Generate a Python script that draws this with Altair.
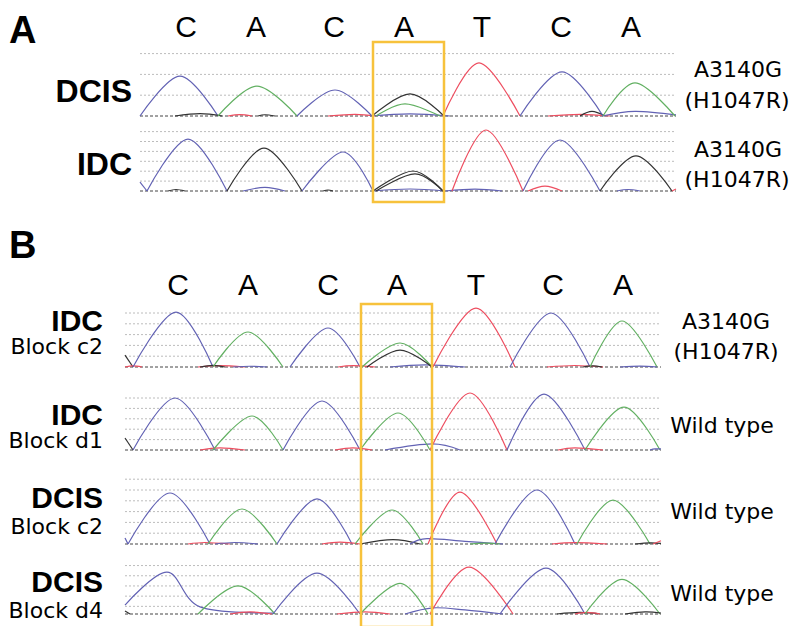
import altair as alt
import pandas as pd

# ---------------- data ----------------
# Sequence shown above each panel
BASES_A = ["C", "A", "C", "A", "T", "C", "A"]
BASES_B = ["C", "A", "C", "A", "T", "C", "A"]

# Sample names, blocks and mutation calls
SAMPLES_A = ["DCIS", "IDC"]
SAMPLES_B = ["IDC", "IDC", "DCIS", "DCIS"]
BLOCKS_B = ["Block c2", "Block d1", "Block c2", "Block d4"]
CALLS_A = ["A3140G", "(H1047R)", "A3140G", "(H1047R)"]
CALLS_B = ["A3140G", "(H1047R)", "Wild type", "Wild type", "Wild type"]

# Chromatogram peaks: (dye channel, scan positions, signal in grid units)
A_DCIS = [
    ("blue", [0, 40, 78], [0, 1.92, 0]),
    ("black", [35, 60, 82], [0, 0.11, 0]),
    ("red", [88, 100, 112], [0, 0.07, 0]),
    ("green", [78, 117, 157], [0, 1.44, 0]),
    ("black", [118, 125, 135], [0, 0.06, 0]),
    ("red", [188, 215, 236], [0, 0.08, 0]),
    ("blue", [157, 195, 232], [0, 1.25, 0]),
    ("blue", [230, 270, 310], [0, 0.1, 0]),
    ("green", [236, 265, 300], [0, 0.58, 0]),
    ("black", [232, 270, 304], [0, 1.06, 0]),
    ("red", [303, 339, 380], [0, 2.55, 0]),
    ("red", [408, 440, 470], [0, 0.08, 0]),
    ("black", [440, 452, 465], [0, 0.22, 0]),
    ("blue", [380, 422, 463], [0, 2.12, 0]),
    ("blue", [462, 495, 536], [0, 0.22, 0.05]),
    ("green", [463, 495, 535], [0, 1.59, 0]),
]
A_IDC = [
    ("blue", [0, 7], [0.9, 0]),
    ("black", [28, 36, 45], [0, 0.15, 0]),
    ("blue", [7, 48, 87], [0, 5.25, 0]),
    ("blue", [103, 125, 145], [0, 0.37, 0]),
    ("black", [87, 124, 162], [0, 4.34, 0]),
    ("black", [183, 188, 193], [0, 0.1, 0]),
    ("blue", [162, 203, 233], [0, 3.94, 0]),
    ("blue", [233, 270, 305], [0, 0.2, 0]),
    ("blue", [305, 335, 362], [0, 0.18, 0]),
    ("black", [233, 273, 303], [0, 2.02, 0]),
    ("black", [236, 275, 303], [0, 1.72, 0]),
    ("red", [312, 346, 383], [0, 6.16, 0]),
    ("red", [388, 405, 422], [0, 0.5, 0]),
    ("blue", [383, 420, 460], [0, 5.15, 0]),
    ("blue", [477, 488, 500], [0, 0.15, 0]),
    ("black", [460, 496, 532], [0, 3.54, 0]),
    ("red", [532, 536], [0, 0.2]),
]
B_IDC_C2 = [
    ("black", [0, 8], [1.1, 0]),
    ("red", [0, 8, 17], [0, 0.1, 0]),
    ("blue", [8, 51, 88], [0, 5.09, 0]),
    ("red", [73, 95, 120], [0, 0.12, 0]),
    ("black", [75, 88, 100], [0, 0.15, 0]),
    ("blue", [108, 125, 142], [0, 0.07, 0]),
    ("green", [88, 123, 158], [0, 3.24, 0]),
    ("blue", [165, 203, 235], [0, 3.61, 0]),
    ("red", [213, 228, 250], [0, 0.12, 0]),
    ("blue", [265, 300, 340], [0, 0.2, 0]),
    ("green", [237, 275, 307], [0, 2.22, 0]),
    ("black", [242, 275, 307], [0, 1.57, 0]),
    ("red", [308, 351, 390], [0, 5.46, 0]),
    ("blue", [385, 426, 465], [0, 5.0, 0]),
    ("red", [422, 450, 478], [0, 0.14, 0]),
    ("black", [458, 468, 477], [0, 0.1, 0]),
    ("green", [465, 497, 532], [0, 4.26, 0]),
    ("blue", [495, 515, 532], [0, 0.08, 0]),
]
B_IDC_D1 = [
    ("black", [0, 8], [1.15, 0]),
    ("blue", [8, 50, 90], [0, 5.0, 0]),
    ("red", [75, 95, 120], [0, 0.2, 0]),
    ("green", [88, 127, 158], [0, 3.27, 0]),
    ("blue", [158, 197, 235], [0, 4.71, 0]),
    ("red", [210, 228, 247], [0, 0.2, 0]),
    ("blue", [260, 307, 335], [0, 0.58, 0]),
    ("green", [235, 273, 305], [0, 3.56, 0]),
    ("red", [305, 345, 382], [0, 5.48, 0]),
    ("blue", [382, 419, 460], [0, 5.38, 0]),
    ("red", [433, 450, 478], [0, 0.2, 0]),
    ("green", [460, 499, 535], [0, 4.13, 0]),
    ("blue", [525, 530, 536], [0, 0.1, 0.1]),
]
B_DCIS_C2 = [
    ("blue", [0, 3], [0.55, 0]),
    ("blue", [3, 45, 85], [0, 4.72, 0]),
    ("red", [63, 80, 105], [0, 0.14, 0]),
    ("blue", [90, 110, 133], [0, 0.14, 0]),
    ("green", [83, 117, 152], [0, 3.24, 0]),
    ("blue", [152, 192, 227], [0, 4.17, 0]),
    ("red", [197, 215, 235], [0, 0.18, 0]),
    ("black", [235, 268, 295], [0, 0.4, 0]),
    ("green", [230, 267, 298], [0, 3.15, 0]),
    ("blue", [285, 302, 340, 378], [0, 0.5, 0.25, 0]),
    ("red", [303, 335, 372], [0, 4.81, 0]),
    ("green", [345, 360, 375], [0, 0.08, 0]),
    ("blue", [370, 412, 450], [0, 5.0, 0]),
    ("red", [427, 450, 482], [0, 0.12, 0]),
    ("green", [452, 488, 525], [0, 4.07, 0]),
    ("black", [510, 525, 536], [0, 0.1, 0.05]),
    ("red", [528, 536], [0, 0.3]),
]
B_DCIS_D4 = [
    ("black", [0, 5], [0.3, 0]),
    ("blue", [0, 42, 75, 148], [0.88, 4.1, 0.7, 0.1]),
    ("green", [73, 113, 150], [0, 2.75, 0]),
    ("red", [105, 125, 147], [0, 0.2, 0]),
    ("blue", [148, 192, 235], [0, 4.0, 0]),
    ("red", [212, 240, 265], [0, 0.2, 0]),
    ("green", [235, 275, 303], [0, 3.0, 0]),
    ("blue", [280, 308, 340, 378], [0, 0.6, 0.4, 0]),
    ("red", [305, 344, 388], [0, 4.6, 0]),
    ("blue", [375, 421, 460], [0, 4.5, 0]),
    ("black", [432, 455, 475], [0, 0.15, 0]),
    ("red", [450, 462, 475], [0, 0.15, 0]),
    ("green", [460, 497, 535], [0, 3.4, 0]),
    ("black", [500, 520, 536], [0, 0.2, 0.1]),
]

# ---------------- layout & style ----------------
W, H = 784, 618
OFF = 8           # page margin
SPAN = 536        # scan width of each trace
CHANNELS = ["blue", "green", "red", "black"]
CH_COLORS = ["#6262b4", "#62b062", "#ee4e60", "#333333"]
YELLOW = "#F7C23C"
FONT = "Liberation Sans"
FONT2 = "DejaVu Sans"

# (peaks, left px, baseline px, px per grid unit, grid levels)
TRACES = [
    (A_DCIS, 140, 116, 20.8, [1, 2, 3]),
    (A_IDC, 140, 191, 9.9, [1, 2, 3, 4, 5, 6]),
    (B_IDC_C2, 125, 367, 10.8, [1, 2, 3, 4, 5]),
    (B_IDC_D1, 125, 450, 10.4, [1, 2, 3, 4, 5]),
    (B_DCIS_C2, 125, 544, 10.8, [1, 2, 3, 4, 5, 6]),
    (B_DCIS_D4, 125, 614, 10.2, [0.75, 1.75, 2.75, 3.75, 4.75]),
]


def make_trace(peaks, left, base, spacing, levels):
    xs = alt.Scale(domain=[-(left - OFF), W - (left - OFF)], nice=False, zero=False)
    ys = alt.Scale(domain=[-(H - (base - OFF)) / spacing, (base - OFF) / spacing],
                   nice=False, zero=False)
    rows = []
    for i, (ch, px, py) in enumerate(peaks):
        for j, (a, b) in enumerate(zip(px, py)):
            rows.append(dict(seg=i, ch=ch, scan=a, val=b, ord=j))
    df = pd.DataFrame(rows)
    grid_df = pd.DataFrame({"lvl": levels, "x0": [0] * len(levels), "x1": [SPAN] * len(levels)})
    base_df = pd.DataFrame({"lvl": [0], "x0": [0], "x1": [SPAN]})
    grid = alt.Chart(grid_df).mark_rule(color="#bcbcbc", strokeDash=[2, 2], strokeWidth=1).encode(
        x=alt.X("x0:Q", scale=xs, axis=None), x2="x1:Q",
        y=alt.Y("lvl:Q", scale=ys, axis=None))
    basel = alt.Chart(base_df).mark_rule(color="#444444", strokeDash=[3, 2], strokeWidth=1).encode(
        x=alt.X("x0:Q", scale=xs, axis=None), x2="x1:Q",
        y=alt.Y("lvl:Q", scale=ys, axis=None))
    lines = alt.Chart(df).mark_line(interpolate="cardinal", strokeWidth=1.2).encode(
        x=alt.X("scan:Q", scale=xs, axis=None),
        y=alt.Y("val:Q", scale=ys, axis=None),
        color=alt.Color("ch:N", scale=alt.Scale(domain=CHANNELS, range=CH_COLORS), legend=None),
        detail="seg:N",
        order="ord:Q")
    return alt.layer(grid, basel, lines)


trace_layers = [make_trace(*t) for t in TRACES]

# ---- text positions (page px: x, alphabetic baseline y) ----
def text_layer(texts, xs, ys, size, align, weight="normal", font=FONT):
    df = pd.DataFrame({"t": texts, "px": [x - OFF for x in xs], "py": [y - OFF for y in ys]})
    return alt.Chart(df).mark_text(align=align, baseline="alphabetic", fontSize=size,
                                   fontWeight=weight, font=font, color="black").encode(
        x=alt.X("px:Q", scale=None), y=alt.Y("py:Q", scale=None), text="t:N")

panel_letters = text_layer(["A", "B"], [9, 9], [43, 258], 38, "left", "bold")
bases_a = text_layer(BASES_A, [186, 256, 334, 404, 482, 561, 631], [37] * 7, 30, "center")
bases_b = text_layer(BASES_B, [178, 248, 328, 397, 476, 553, 623], [295] * 7, 30, "center")
names_a = text_layer(SAMPLES_A, [132, 132], [102, 175], 32, "right", "bold")
names_b = text_layer(SAMPLES_B, [103] * 4, [331, 425, 508, 592], 30, "right", "bold")
blocks_b = text_layer(BLOCKS_B, [103] * 4, [354, 448, 534, 618], 22, "right", font=FONT2)
calls_a = text_layer(CALLS_A, [738, 737, 738, 737], [77, 108, 157, 187], 22, "center", font=FONT2)
calls_b = text_layer(CALLS_B, [726, 726, 722, 722, 722], [329, 359, 433, 519, 601], 22,
                     "center", font=FONT2)

# highlight boxes around the mutated base
box_df = pd.DataFrame({"x0": [373 - OFF, 361 - OFF], "x1": [444 - OFF, 432 - OFF],
                       "y0": [42 - OFF, 304 - OFF], "y1": [202 - OFF, 627 - OFF]})
boxes = alt.Chart(box_df).mark_rect(fill="transparent", stroke=YELLOW, strokeWidth=2.5).encode(
    x=alt.X("x0:Q", scale=None), x2="x1:Q", y=alt.Y("y0:Q", scale=None), y2="y1:Q")

chart = alt.layer(
    *trace_layers, boxes, panel_letters, bases_a, bases_b, names_a, names_b,
    blocks_b, calls_a, calls_b
).resolve_scale(x="independent", y="independent").properties(
    width=W, height=H, autosize=alt.AutoSizeParams(type="none"), padding=0
).configure_view(strokeWidth=0)

chart.save("out.html", embed_options={"renderer": "svg", "actions": False})
